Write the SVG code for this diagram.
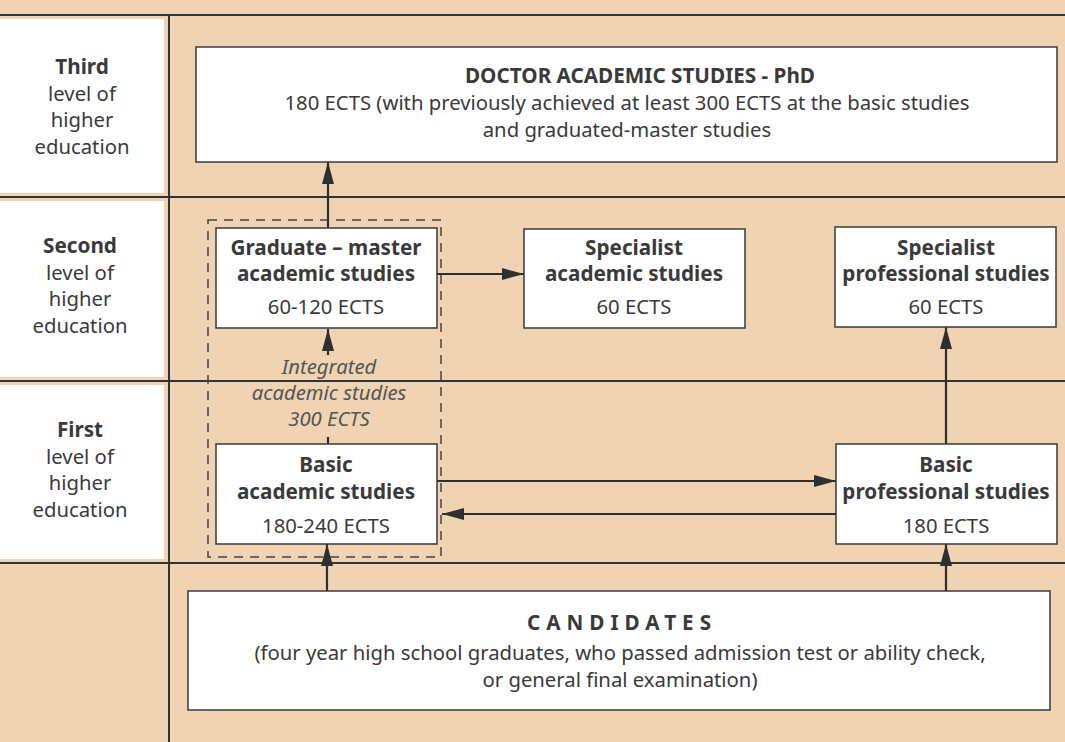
<svg xmlns="http://www.w3.org/2000/svg" width="1065" height="742" viewBox="0 0 1065 742">
<defs>
<style>
.bg{fill:#efd3b2}
.box{fill:#fff;stroke:#3a3a3a;stroke-width:1.5}
.lbl{fill:#fff}
.grid{stroke:#2f3436;stroke-width:2;fill:none}
.t{font-family:"Noto Sans","Open Sans",sans-serif;font-size:20.3px;fill:#3a3a3a;text-anchor:middle}
.b{font-weight:bold;font-size:20.7px}
.i{font-style:italic;fill:#555}
.c{stroke:#2f2f2f;stroke-width:2.2;fill:none}
</style>
<marker id="ah" markerWidth="22" markerHeight="12" refX="22" refY="6" orient="auto" markerUnits="userSpaceOnUse">
<path d="M0,0 L22,6 L0,12 Z" fill="#2f2f2f"/>
</marker>
</defs>
<rect class="bg" x="0" y="0" width="1065" height="742"/>
<g id="grid">
<line class="grid" x1="0" y1="15" x2="1065" y2="15"/>
<line class="grid" x1="0" y1="197" x2="1065" y2="197"/>
<line class="grid" x1="0" y1="381" x2="1065" y2="381"/>
<line class="grid" x1="0" y1="563" x2="1065" y2="563"/>
<line class="grid" x1="169" y1="15" x2="169" y2="742"/>
</g>
<g id="level3">
<rect class="lbl" x="0" y="19" width="164" height="174"/>
<text class="t" x="82" y="74"><tspan class="b">Third</tspan><tspan x="82" dy="26.5">level of</tspan><tspan x="82" dy="26.5">higher</tspan><tspan x="82" dy="26.5">education</tspan></text>
</g>
<g id="level2">
<rect class="lbl" x="0" y="201" width="164" height="176"/>
<text class="t" x="80" y="253"><tspan class="b">Second</tspan><tspan x="80" dy="26.5">level of</tspan><tspan x="80" dy="26.5">higher</tspan><tspan x="80" dy="26.5">education</tspan></text>
</g>
<g id="level1">
<rect class="lbl" x="0" y="385" width="164" height="174"/>
<text class="t" x="80" y="437"><tspan class="b">First</tspan><tspan x="80" dy="26.5">level of</tspan><tspan x="80" dy="26.5">higher</tspan><tspan x="80" dy="26.5">education</tspan></text>
</g>
<g id="integrated">
<rect x="208" y="220" width="233" height="337" fill="none" stroke="#444" stroke-width="1.5" stroke-dasharray="9,7"/>
<text class="t i" x="329" y="374">Integrated<tspan x="329" dy="26">academic studies</tspan><tspan x="329" dy="26">300 ECTS</tspan></text>
</g>
<g id="connectors">
<line class="c" x1="328" y1="228" x2="328" y2="162" marker-end="url(#ah)"/>
<line class="c" x1="328" y1="355" x2="328" y2="329" marker-end="url(#ah)"/>
<line class="c" x1="328" y1="444" x2="328" y2="437"/>
<line class="c" x1="437" y1="274" x2="524" y2="274" marker-end="url(#ah)"/>
<line class="c" x1="437" y1="481" x2="836" y2="481" marker-end="url(#ah)"/>
<line class="c" x1="836" y1="514" x2="442" y2="514" marker-end="url(#ah)"/>
<line class="c" x1="946" y1="444" x2="946" y2="327" marker-end="url(#ah)"/>
<line class="c" x1="327" y1="591" x2="327" y2="544" marker-end="url(#ah)"/>
<line class="c" x1="946" y1="591" x2="946" y2="544" marker-end="url(#ah)"/>
</g>
<g id="phd">
<rect class="box" x="196" y="47" width="861" height="115"/>
<text class="t b" x="640" y="83">DOCTOR ACADEMIC STUDIES - PhD</text>
<text class="t" x="627" y="110">180 ECTS (with previously achieved at least 300 ECTS at the basic studies</text>
<text class="t" x="627" y="137">and graduated-master studies</text>
</g>
<g id="graduate">
<rect class="box" x="216" y="228" width="221" height="100"/>
<text class="t b" x="326" y="255">Graduate – master</text>
<text class="t b" x="326" y="281">academic studies</text>
<text class="t" x="326" y="314">60-120 ECTS</text>
</g>
<g id="spec-academic">
<rect class="box" x="524" y="229" width="221" height="99"/>
<text class="t b" x="634" y="255">Specialist</text>
<text class="t b" x="634" y="281">academic studies</text>
<text class="t" x="634" y="314">60 ECTS</text>
</g>
<g id="spec-professional">
<rect class="box" x="835" y="227" width="221" height="100"/>
<text class="t b" x="946" y="255">Specialist</text>
<text class="t b" x="946" y="281">professional studies</text>
<text class="t" x="946" y="314">60 ECTS</text>
</g>
<g id="basic-academic">
<rect class="box" x="216" y="444" width="221" height="100"/>
<text class="t b" x="326" y="472">Basic</text>
<text class="t b" x="326" y="499">academic studies</text>
<text class="t" x="326" y="533">180-240 ECTS</text>
</g>
<g id="basic-professional">
<rect class="box" x="836" y="444" width="221" height="100"/>
<text class="t b" x="946" y="472">Basic</text>
<text class="t b" x="946" y="499">professional studies</text>
<text class="t" x="946" y="533">180 ECTS</text>
</g>
<g id="candidates">
<rect class="box" x="188" y="591" width="862" height="119"/>
<text class="t b" x="622" y="630" letter-spacing="6">CANDIDATES</text>
<text class="t" x="620" y="660">(four year high school graduates, who passed admission test or ability check,</text>
<text class="t" x="620" y="687">or general final examination)</text>
</g>
</svg>
